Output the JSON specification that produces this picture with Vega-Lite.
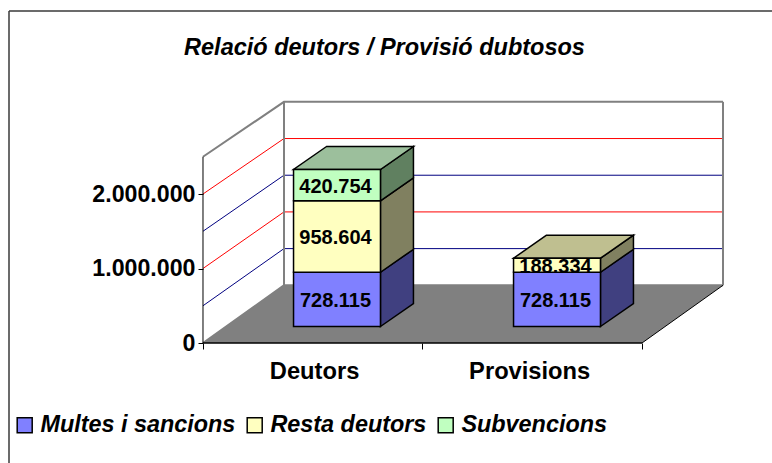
{
"$schema":"https://vega.github.io/schema/vega-lite/v6.json",
"autosize":"none","width":763,"height":452,
"padding":{"left":9,"top":11,"right":0,"bottom":0},
"background":"white",
"config":{"view":{"stroke":null},"font":"Liberation Sans","locale":{"number":{"decimal":",","thousands":".","grouping":[3],"currency":["","€"]}}},
"title":{"text":"Relació deutors / Provisió dubtosos","font":"Liberation Sans","fontWeight":"bold","fontStyle":"italic","fontSize":23.5,"color":"black","anchor":"middle","offset":-49,"dx":-6},
"datasets":{
"rows":[
{"cat":"Deutors","series":"Multes i sancions","value":728115},
{"cat":"Deutors","series":"Resta deutors","value":958604},
{"cat":"Deutors","series":"Subvencions","value":420754},
{"cat":"Provisions","series":"Multes i sancions","value":728115},
{"cat":"Provisions","series":"Resta deutors","value":188334}
],
"grid":[{"v":0},{"v":500000},{"v":1000000},{"v":1500000},{"v":2000000},{"v":2500000}]
},
"resolve":{"scale":{"color":"independent"}},
"layer":[
{"data":{"values":[{"d":0},{"d":1}]},
 "transform":[{"calculate":"datum.d*0.369","as":"xa"},{"calculate":"2+datum.d*0.369","as":"xb"},{"calculate":"datum.d*774497","as":"yy"}],
 "mark":{"type":"area","orient":"horizontal","color":"#808080"},
 "encoding":{
  "y":{"field":"yy","type":"quantitative","scale":{"domain":[-1610700,4456400],"nice":false,"zero":false},
   "axis":{"orient":"left","offset":-194,"values":[0,1000000,2000000],"labelExpr":"format(datum.value,',')","domain":false,"grid":false,"tickSize":5,"tickColor":"black","labelPadding":3,"labelFont":"Liberation Sans","labelFontWeight":"bold","labelFontSize":23.2,"labelColor":"black","title":null}},
  "x":{"field":"xa","type":"quantitative","scale":{"domain":[-0.8838,2.5923],"nice":false,"zero":false},
   "axis":{"orient":"bottom","offset":-120,"values":[0,0.506,1,1.486,2],"labelExpr":"datum.value==0.506?'Deutors':(datum.value==1.486?'Provisions':'')","domain":false,"grid":false,"tickSize":6,"tickColor":"black","tickOpacity":{"condition":{"test":"datum.value==0||datum.value==1||datum.value==2","value":1},"value":0},"labelPadding":10,"labelFont":"Liberation Sans","labelFontWeight":"bold","labelFontSize":23.7,"labelColor":"black","labelOverlap":false,"labelFlush":false,"title":null}},
  "x2":{"field":"xb"}
 }},
{"data":{"name":"grid"},
 "transform":[{"calculate":"[0,0.369,2.369]","as":"xs"},{"calculate":"[datum.v,datum.v*0.985+774497,datum.v*0.985+774497]","as":"ys"},{"flatten":["xs","ys"]}],
 "mark":{"type":"line","interpolate":"linear"},
 "encoding":{
  "x":{"field":"xs","type":"quantitative"},
  "y":{"field":"ys","type":"quantitative"},
  "color":{"field":"v","type":"nominal","legend":null,"scale":{"domain":[0,500000,1000000,1500000,2000000,2500000],"range":["#808080","#000080","#ff0000","#000080","#ff0000","#808080"]}},
  "strokeWidth":{"condition":{"test":"datum.v==0||datum.v==2500000","value":2},"value":1}
 }},
{"data":{"values":[{}]},"mark":{"type":"rule","color":"#808080","strokeWidth":2},
 "encoding":{"x":{"datum":0.369},"y":{"datum":774497},"y2":{"datum":3236997}}},
{"data":{"values":[{}]},"mark":{"type":"rule","color":"#808080","strokeWidth":2},
 "encoding":{"x":{"datum":2.369},"y":{"datum":774497},"y2":{"datum":3236997}}},
{"data":{"values":[{}]},"mark":{"type":"rule","color":"black","strokeWidth":1},
 "encoding":{"x":{"datum":0},"y":{"datum":0},"y2":{"datum":2500000}}},
{"data":{"values":[{}]},"mark":{"type":"rule","color":"black","strokeWidth":1.3},
 "encoding":{"x":{"datum":0},"x2":{"datum":2},"y":{"datum":0}}},
{"data":{"values":[{}]},"mark":{"type":"rule","color":"black","strokeWidth":1},
 "encoding":{"x":{"datum":2},"x2":{"datum":2.369},"y":{"datum":0},"y2":{"datum":774497}}},
{"data":{"values":[{}]},"mark":{"type":"rule","color":"#3a3a3a","strokeWidth":1.5},
 "encoding":{"x":{"datum":-0.8838},"x2":{"datum":2.5923},"y":{"datum":4456400}}},
{"data":{"values":[{}]},"mark":{"type":"rule","color":"#3a3a3a","strokeWidth":1.5},
 "encoding":{"x":{"datum":-0.8838},"y":{"datum":-1610700},"y2":{"datum":4456400}}},
{"data":{"name":"rows"},
 "transform":[
  {"stack":"value","groupby":["cat"],"sort":[{"field":"series","order":"ascending"}],"as":["v0","v1"]},
  {"calculate":"datum.cat=='Deutors'?0.6105:1.6128","as":"pos"},
  {"calculate":"[0,1]","as":"depth"},{"flatten":["depth"]},
  {"calculate":"datum.pos+0.198+datum.depth*0.1503","as":"xs"},
  {"calculate":"datum.v0+221477+datum.depth*308725","as":"lo"},
  {"calculate":"datum.v1+221477+datum.depth*308725","as":"hi"}
 ],
 "mark":{"type":"area","orient":"vertical","stroke":"black","strokeWidth":1.5},
 "encoding":{
  "x":{"field":"xs","type":"quantitative"},
  "y":{"field":"lo","type":"quantitative"},
  "y2":{"field":"hi"},
  "detail":{"field":"cat"},
  "color":{"field":"series","type":"nominal","legend":null,"scale":{"domain":["Multes i sancions","Resta deutors","Subvencions"],"range":["#404080","#808060","#608060"]}}
 }},
{"data":{"name":"rows"},
 "transform":[
  {"stack":"value","groupby":["cat"],"sort":[{"field":"series","order":"ascending"}],"as":["v0","v1"]},
  {"joinaggregate":[{"op":"max","field":"v1","as":"vmax"}],"groupby":["cat"]},
  {"filter":"datum.v1==datum.vmax"},
  {"calculate":"datum.cat=='Deutors'?0.6105:1.6128","as":"pos"},
  {"calculate":"[0,1]","as":"depth"},{"flatten":["depth"]},
  {"calculate":"datum.pos-0.198+datum.depth*0.1503","as":"xa"},
  {"calculate":"datum.pos+0.198+datum.depth*0.1503","as":"xb"},
  {"calculate":"datum.v1+221477+datum.depth*308725","as":"yy"}
 ],
 "mark":{"type":"area","orient":"horizontal","stroke":"black","strokeWidth":1.5},
 "encoding":{
  "y":{"field":"yy","type":"quantitative"},
  "x":{"field":"xa","type":"quantitative"},
  "x2":{"field":"xb"},
  "detail":{"field":"cat"},
  "color":{"field":"series","type":"nominal","legend":null,"scale":{"domain":["Multes i sancions","Resta deutors","Subvencions"],"range":["#8f8fbf","#bfbf90","#9cbf9c"]}}
 }},
{"data":{"name":"rows"},
 "transform":[
  {"stack":"value","groupby":["cat"],"sort":[{"field":"series","order":"ascending"}],"as":["v0","v1"]},
  {"calculate":"datum.cat=='Deutors'?0.6105:1.6128","as":"pos"},
  {"calculate":"datum.pos-0.198","as":"xa"},{"calculate":"datum.pos+0.198","as":"xb"},
  {"calculate":"datum.v0+221477","as":"lo"},{"calculate":"datum.v1+221477","as":"hi"}
 ],
 "mark":{"type":"rect","stroke":"black","strokeWidth":1.5},
 "encoding":{
  "x":{"field":"xa","type":"quantitative"},"x2":{"field":"xb"},
  "y":{"field":"lo","type":"quantitative"},"y2":{"field":"hi"},
  "color":{"field":"series","type":"nominal","scale":{"domain":["Multes i sancions","Resta deutors","Subvencions"],"range":["#8080ff","#ffffc0","#c0ffc0"]},
   "legend":{"orient":"none","legendX":4,"legendY":402,"direction":"horizontal","title":null,"symbolType":"square","symbolSize":225,"symbolStrokeColor":"black","symbolStrokeWidth":1.5,"labelFont":"Liberation Sans","labelFontWeight":"bold","labelFontStyle":"italic","labelFontSize":23.4,"labelColor":"black","labelLimit":300,"padding":0,"columnPadding":7,"labelOffset":4,"columns":3}}
 }},
{"data":{"name":"rows"},
 "transform":[
  {"stack":"value","groupby":["cat"],"sort":[{"field":"series","order":"ascending"}],"as":["v0","v1"]},
  {"calculate":"datum.cat=='Deutors'?0.6105:1.6128","as":"pos"},
  {"calculate":"(datum.v0+datum.v1)/2+221477","as":"mid"}
 ],
 "mark":{"type":"text","font":"Liberation Sans","fontWeight":"bold","fontSize":20,"color":"black","align":"center","baseline":"middle","dx":-1.5,"dy":1.5},
 "encoding":{
  "x":{"field":"pos","type":"quantitative"},
  "y":{"field":"mid","type":"quantitative"},
  "text":{"field":"value","type":"quantitative","format":","}
 }}
]
}
